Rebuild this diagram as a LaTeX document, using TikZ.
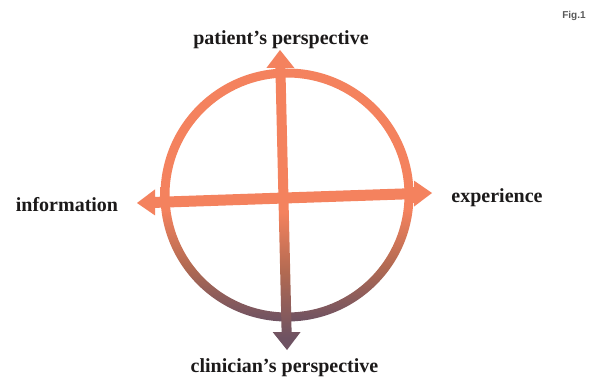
\documentclass[tikz,border=0pt]{standalone}
\usepackage{fontspec}
\setmainfont{Liberation Serif}
\setsansfont{Liberation Sans}
\definecolor{salmon}{HTML}{F4825E}
\definecolor{midbrown}{HTML}{B26A52}
\definecolor{darkmauve}{HTML}{6E5262}
\definecolor{inkc}{HTML}{1C1A1A}
\pgfdeclareverticalshading{ringshade}{100bp}{color(0bp)=(darkmauve); color(25bp)=(darkmauve); color(36bp)=(midbrown); color(47bp)=(salmon); color(100bp)=(salmon)}
\pgfdeclareverticalshading{vshade}{100bp}{color(0bp)=(darkmauve); color(27bp)=(darkmauve); color(38bp)=(midbrown); color(48bp)=(salmon); color(100bp)=(salmon)}
\tikzset{
  lbl/.style={font=\fontsize{20}{22}\selectfont\bfseries, text=inkc, inner sep=0pt, anchor=base},
}
\begin{document}
\begin{tikzpicture}[x=1pt,y=-1pt]
\useasboundingbox[fill=white] (0,0) rectangle (613,379);
% ring
\shade[shading=ringshade, even odd rule] (287,195) circle (126.5pt) (287,195) circle (117.5pt);
% horizontal double arrow
\fill[salmon] (137,203) -- (155,189.4) -- (155,196.9) -- (414,188.1) -- (414,180.6) -- (432,193)
  -- (414,206.6) -- (414,199.1) -- (155,207.9) -- (155,215.4) -- cycle;
% vertical double arrow
\shade[shading=vshade] (280,50) -- (294.4,68) -- (285.4,68) -- (291.6,332) -- (300.6,332) -- (287,350)
  -- (272.6,332) -- (281.6,332) -- (275.4,68) -- (266.4,68) -- cycle;
% labels
\node[lbl] (top) at (281,45) {patient's perspective};
\node[lbl] (bot) at (284.5,372) {clinician's perspective};
\node[lbl] (left) at (67,212) {information};
\node[lbl] (right) at (497,203) {experience};
\node[font=\sffamily\fontsize{10}{12}\selectfont\bfseries, text=black!65, inner sep=0pt, anchor=base] (fig) at (574,19) {Fig.1};
\end{tikzpicture}
\end{document}
